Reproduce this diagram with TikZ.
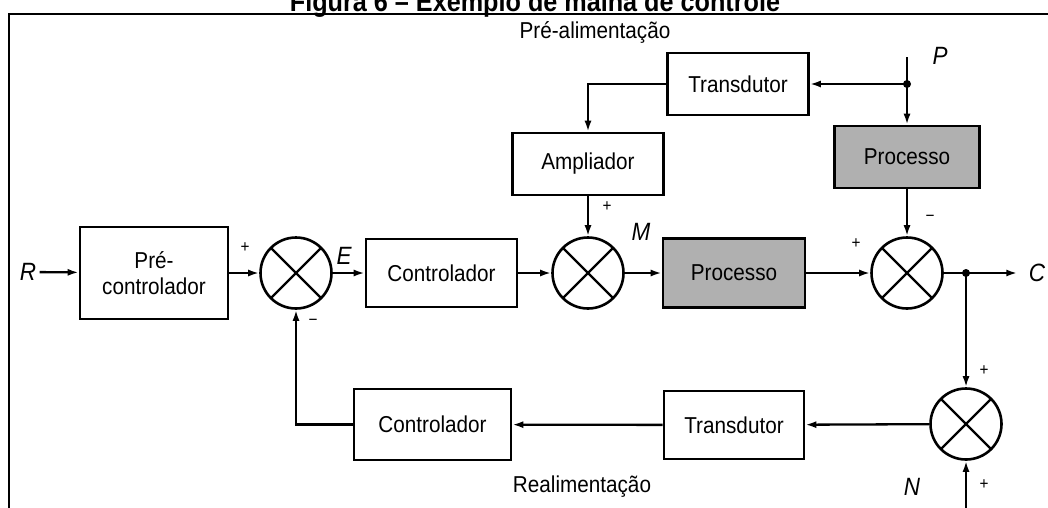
\documentclass[tikz,border=0pt]{standalone}
\usepackage{fontspec}
\setmainfont{Liberation Sans}[FakeStretch=0.9]
\usetikzlibrary{arrows.meta}
\definecolor{procgray}{RGB}{176,176,176}
\tikzset{
  blk/.style={draw, line width=2.6pt, inner sep=0pt, align=center, font=\fontsize{23}{26}\selectfont},
  gblk/.style={blk, fill=procgray},
  sumj/.style={draw, circle, line width=2.6pt, minimum size=71pt, inner sep=0pt,
    path picture={\draw[line width=2.4pt] (path picture bounding box.north west) -- (path picture bounding box.south east)
      (path picture bounding box.north east) -- (path picture bounding box.south west);}},
  conn/.style={line width=2.3pt, -{Latex[length=11pt,width=7pt]}},
  wire/.style={line width=2.3pt},
  lbl/.style={font=\fontsize{23}{26}\selectfont},
  var/.style={font=\fontsize{25}{27}\selectfont\itshape},
  sgn/.style={font=\fontsize{17}{18}\selectfont},
  jdot/.style={fill, circle, inner sep=0pt, minimum size=8pt},
}
\begin{document}
\begin{tikzpicture}[x=1pt, y=-1pt]
\useasboundingbox (0,0) rectangle (1048,507);
% title and frame
\node[font=\bfseries\fontsize{28}{30}\selectfont, anchor=base] (title) at (535,11.5) {Figura 6 – Exemplo de malha de controle};
\draw[line width=2.4pt] (9,512) -- (9,14) -- (1052,14);
% blocks
\node[blk, minimum width=141pt, minimum height=62pt] (trT) at (738,84) {Transdutor};
\node[blk, minimum width=151pt, minimum height=62pt] (amp) at (588,164) {Ampliador};
\node[gblk, minimum width=145pt, minimum height=62pt] (prT) at (907,157) {Processo};
\node[blk, minimum width=148pt, minimum height=92pt] (pre) at (154,273) {Pré-\\controlador};
\node[sumj] (s1) at (296,273) {};
\node[blk, minimum width=151pt, minimum height=68pt] (ctl) at (441.5,273) {Controlador};
\node[sumj] (s2) at (588,273) {};
\node[gblk, minimum width=142pt, minimum height=69pt] (pro) at (734,273) {Processo};
\node[sumj] (s3) at (907,273) {};
\node[sumj] (s4) at (966,424) {};
\node[blk, minimum width=140pt, minimum height=68pt] (trB) at (734,425) {Transdutor};
\node[blk, minimum width=157pt, minimum height=71pt] (ctB) at (432.5,424.5) {Controlador};
% labels
\node[lbl] (preal) at (595,32) {Pré-alimentação};
\node[lbl] (real) at (582,487) {Realimentação};
\node[var] (R) at (28,272) {R};
\node[var] (E) at (344,256) {E};
\node[var] (M) at (641,232) {M};
\node[var] (P) at (940,56) {P};
\node[var] (C) at (1037,273) {C};
\node[var] (N) at (912,487) {N};
\node[sgn] (s1p) at (245,248) {+};
\node[sgn] (s1m) at (313,322) {−};
\node[sgn] (s2p) at (607,207) {+};
\node[sgn] (s3p) at (856,244) {+};
\node[sgn] (s3m) at (930,218) {−};
\node[sgn] (s4p) at (984,371) {+};
\node[sgn] (s4b) at (984,485) {+};
% junctions
\coordinate (Ptop) at (907,57);
\node[jdot] (jP) at (907,84) {};
\node[jdot] (jC) at (966,273) {};
\coordinate (Nbot) at (966,512);
% connectors
\draw[wire] (Ptop) -- (jP.center);
\draw[conn] (jP.center) -- (trT.east);
\draw[conn] (jP.center) -- (prT.north);
\draw[conn] (trT.west) -| (amp.north);
\draw[conn] (amp) -- (s2);
\draw[conn] (prT) -- (s3);
\draw[conn] (R) -- (pre);
\draw[conn] (pre) -- (s1);
\draw[conn] (s1) -- (ctl);
\draw[conn] (ctl) -- (s2);
\draw[conn] (s2) -- (pro);
\draw[conn] (pro) -- (s3);
\draw[wire] (s3) -- (jC.center);
\draw[conn, shorten >=8pt] (jC.center) -- (C.west);
\draw[conn] (jC.center) -- (s4);
\draw[conn] (s4) -- (trB);
\draw[conn] (trB) -- (ctB);
\draw[conn] (ctB.west) -| (s1.south);
\draw[conn] (Nbot) -- (s4.south);
\end{tikzpicture}
\end{document}
